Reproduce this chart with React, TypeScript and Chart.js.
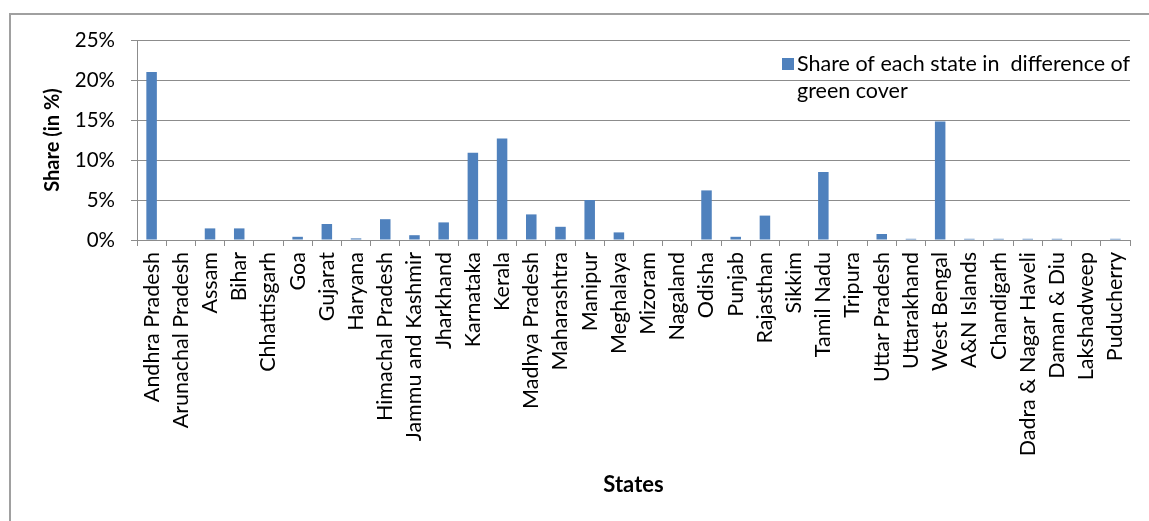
import React, { useEffect, useRef } from "react";
import { Chart, registerables } from "chart.js";

Chart.register(...registerables);

const states: string[] = [
  "Andhra Pradesh", "Arunachal Pradesh", "Assam", "Bihar", "Chhattisgarh", "Goa",
  "Gujarat", "Haryana", "Himachal Pradesh", "Jammu and Kashmir", "Jharkhand",
  "Karnataka", "Kerala", "Madhya Pradesh", "Maharashtra", "Manipur", "Meghalaya",
  "Mizoram", "Nagaland", "Odisha", "Punjab", "Rajasthan", "Sikkim", "Tamil Nadu",
  "Tripura", "Uttar Pradesh", "Uttarakhand", "West Bengal", "A&N Islands",
  "Chandigarh", "Dadra & Nagar Haveli", "Daman & Diu", "Lakshadweep", "Puducherry",
];

const shareValues: number[] = [
  21.0, 0, 1.45, 1.45, 0, 0.4, 2.0, 0.2, 2.6, 0.6, 2.2, 10.9, 12.7, 3.2, 1.65,
  5.0, 0.95, 0, 0, 6.2, 0.4, 3.05, 0, 8.5, 0, 0.75, 0.15, 14.8, 0.15, 0.15,
  0.15, 0.15, 0, 0.15,
];

const seriesLabel = "Share of each state in  difference of green cover";
const legendLines: string[] = ["Share of each state in  difference of", "green cover"];
const yTicks: number[] = [0, 5, 10, 15, 20, 25];

const FONT = "Lato, 'Open Sans', sans-serif";
const BLUE = "#4F81BD";
const GRID = "#8c8c8c";

const framePlugin = {
  id: "frame",
  beforeDraw(chart: any) {
    const ctx = chart.ctx;
    ctx.save();
    ctx.fillStyle = "#ffffff";
    ctx.fillRect(0, 0, chart.width, chart.height);
    ctx.strokeStyle = "#a0a0a0";
    ctx.lineWidth = 2;
    ctx.beginPath();
    ctx.moveTo(10, chart.height);
    ctx.lineTo(10, 14);
    ctx.lineTo(chart.width, 14);
    ctx.stroke();
    ctx.restore();
  },
};

const legendPlugin = {
  id: "customLegend",
  afterDraw(chart: any) {
    const ctx = chart.ctx;
    ctx.save();
    ctx.fillStyle = BLUE;
    ctx.fillRect(782, 58, 12, 12);
    ctx.fillStyle = "#000000";
    ctx.font = `21.5px ${FONT}`;
    ctx.textBaseline = "middle";
    ctx.textAlign = "left";
    legendLines.forEach((line, i) => {
      ctx.fillText(line, 797, 64 + i * 27);
    });
    ctx.restore();
  },
};

export default function App() {
  const ref = useRef<HTMLCanvasElement>(null);

  useEffect(() => {
    document.body.style.margin = "0";
    const chart = new Chart(ref.current as HTMLCanvasElement, {
      type: "bar",
      data: {
        labels: states,
        datasets: [
          {
            label: seriesLabel,
            data: shareValues,
            backgroundColor: BLUE,
            borderWidth: 0,
            categoryPercentage: 1,
            barPercentage: 0.36,
          },
        ],
      },
      options: {
        animation: false,
        responsive: false,
        maintainAspectRatio: false,
        layout: { padding: { left: 0, right: 19, top: 40, bottom: 23 } },
        plugins: {
          legend: { display: false },
          tooltip: { enabled: false },
        },
        scales: {
          x: {
            grid: {
              offset: true,
              drawOnChartArea: false,
              drawTicks: true,
              tickLength: 6,
              color: GRID,
            },
            border: { color: GRID, width: 1 },
            ticks: {
              autoSkip: false,
              minRotation: 90,
              maxRotation: 90,
              padding: 6,
              color: "#000000",
              font: { family: FONT, size: 21.5 },
            },
            title: {
              display: true,
              text: "States",
              color: "#000000",
              font: { family: FONT, size: 22, weight: "bold" },
              padding: { top: 0, bottom: 0 },
            },
            afterFit: (scale: any) => {
              scale.height = 521 - 240 - 23;
            },
          },
          y: {
            min: 0,
            max: 25,
            afterBuildTicks: (scale: any) => {
              scale.ticks = yTicks.map((v) => ({ value: v }));
            },
            grid: {
              color: GRID,
              drawTicks: true,
              tickLength: 6,
            },
            border: { color: GRID, width: 1 },
            ticks: {
              padding: 16,
              color: "#000000",
              font: { family: FONT, size: 20.5 },
              callback: (v: any) => `${v}%`,
            },
            title: {
              display: true,
              text: "Share (in %)",
              color: "#000000",
              font: { family: FONT, size: 20, weight: "bold" },
              padding: { top: 41, bottom: 0 },
            },
            afterFit: (scale: any) => {
              scale.width = 137;
            },
          },
        },
      },
      plugins: [framePlugin, legendPlugin],
    });
    return () => chart.destroy();
  }, []);

  return (
    <div style={{ position: "absolute", left: 0, top: 0, width: 1149, height: 521 }}>
      <canvas ref={ref} width={1149} height={521} style={{ width: 1149, height: 521 }} />
    </div>
  );
}
